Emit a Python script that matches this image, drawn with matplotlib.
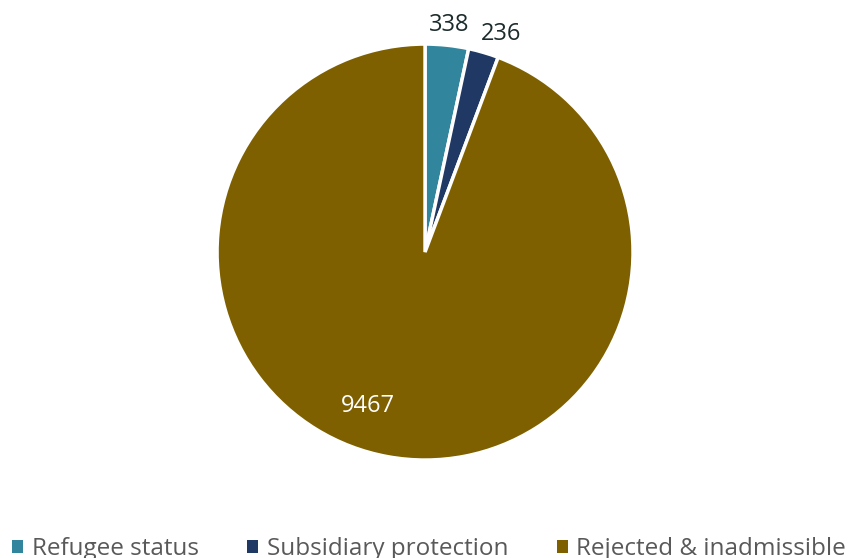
import numpy as np
import matplotlib
matplotlib.use('Agg')
import matplotlib.pyplot as plt
from matplotlib.patches import Patch

plt.rcParams['font.family'] = ['Open Sans', 'DejaVu Sans']

# decisions by outcome
categories = ['Refugee status', 'Subsidiary protection', 'Rejected & inadmissible']
values = [338, 236, 9467]
colors = ['#31859C', '#1F3864', '#7F6000']

fig = plt.figure(figsize=(8.5, 5.58), dpi=100)
ax = fig.add_axes([0.2064, 0.101, 0.5873, 0.8946])

wedges, _ = ax.pie(values, colors=colors, startangle=90, counterclock=False,
                   radius=1.0, wedgeprops=dict(edgecolor='white', linewidth=2.5))
ax.set_xlim(-1.2, 1.2)
ax.set_ylim(-1.2, 1.2)
ax.set_aspect('equal')
ax.axis('off')

# value labels: small slices outside, big slice inside
total = sum(values)
start = 90.0
label_r = [1.1, 1.11, 0.79]
nudge = [0, -3, -10]
for i, v in enumerate(values):
    span = 360.0 * v / total
    mid = np.deg2rad(start - span / 2 + nudge[i])
    start -= span
    r = label_r[i]
    col = 'white' if i == 2 else '#1C2B2B'
    ax.text(r * np.cos(mid), r * np.sin(mid), str(v), ha='center', va='center',
            fontsize=17, color=col)

handles = [Patch(facecolor=c, edgecolor='none') for c in colors]
fig.legend(handles, categories, loc='lower center', bbox_to_anchor=(0.505, -0.045), ncol=3,
           frameon=False, fontsize=17.5, labelcolor='#595959', handlelength=0.45,
           handleheight=0.45, handletextpad=0.35, columnspacing=2.0)

plt.savefig('out.png', dpi=100)
plt.close()
